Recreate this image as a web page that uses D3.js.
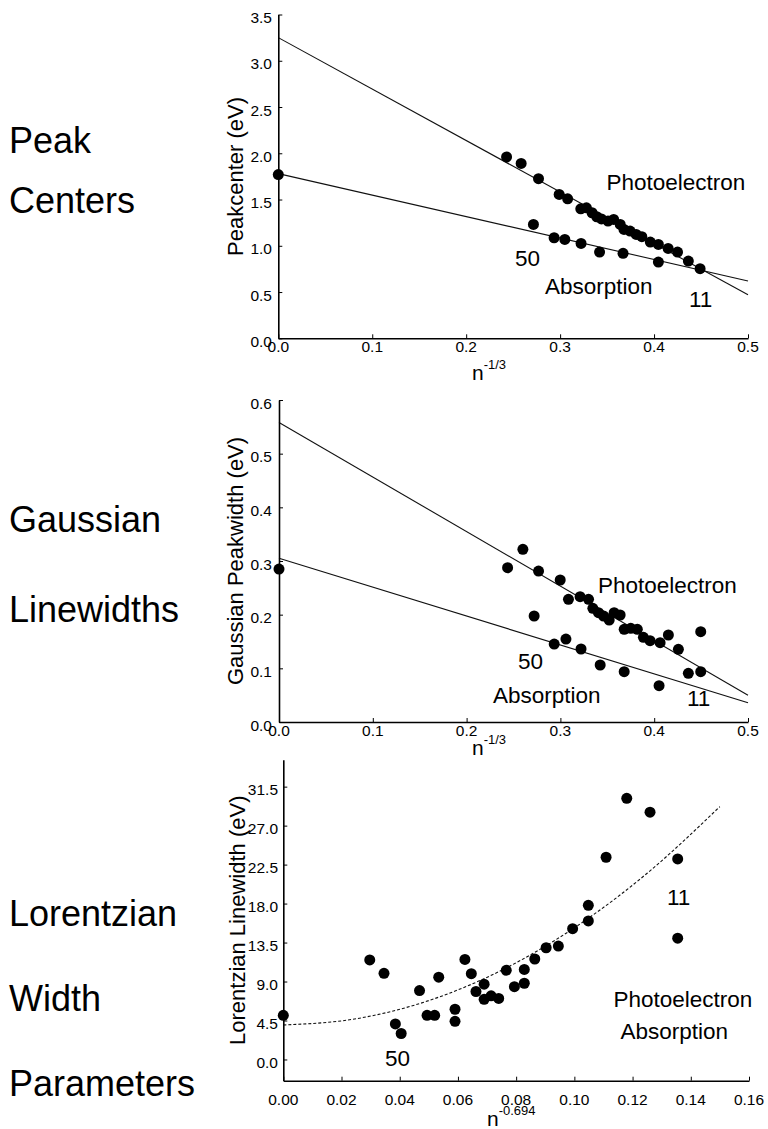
<!DOCTYPE html>
<html>
<head>
<meta charset="utf-8">
<script src="https://cdn.jsdelivr.net/npm/d3@7"></script>
<style>
  body { margin: 0; background: #fff; }
  svg { display: block; }
  text { font-family: "Liberation Sans", Arial, sans-serif; fill: #000; }
</style>
</head>
<body>
<div id="chart"></div>
<script>
// values

// panel 1 : peak centers vs n^-1/3
const p1Photo = [[0.243, 1.96], [0.2585, 1.89], [0.277, 1.725], [0.299, 1.555], [0.308, 1.508],
  [0.322, 1.40], [0.328, 1.41], [0.334, 1.357], [0.339, 1.314], [0.344, 1.29], [0.351, 1.267],
  [0.357, 1.285], [0.364, 1.231], [0.368, 1.177], [0.3745, 1.159], [0.381, 1.123], [0.387, 1.098],
  [0.396, 1.04], [0.4046, 1.015], [0.415, 0.972], [0.425, 0.932], [0.4365, 0.835], [0.449, 0.753]]
const p1Abs = [[0, 1.77], [0.2716, 1.231], [0.2936, 1.087], [0.305, 1.069], [0.3223, 1.026],
  [0.342, 0.932], [0.367, 0.918], [0.4046, 0.824]]
const p1PhotoFit = [[0, 3.25], [0.5, 0.47]]
const p1AbsFit = [[0, 1.78], [0.5, 0.62]]
const p1XTicks = [0, 0.1, 0.2, 0.3, 0.4, 0.5]
const p1YTicks = [0, 0.5, 1.0, 1.5, 2.0, 2.5, 3.0, 3.5]

// panel 2 : gaussian widths vs n^-1/3
const p2Photo = [[0.2437, 0.2875], [0.260, 0.3218], [0.2767, 0.2813], [0.2998, 0.2646], [0.3086, 0.2286],
  [0.321, 0.2335], [0.330, 0.2286], [0.3346, 0.2118], [0.3406, 0.2037], [0.346, 0.1975], [0.352, 0.190],
  [0.3573, 0.2037], [0.3637, 0.1994], [0.368, 0.1727], [0.375, 0.1746], [0.382, 0.1727], [0.3885, 0.1578],
  [0.3956, 0.1515], [0.4063, 0.1478], [0.4151, 0.1621], [0.4258, 0.1354], [0.4496, 0.1683], [0.4364, 0.0907]]
const p2Abs = [[0, 0.285], [0.272, 0.1975], [0.2934, 0.1453], [0.3059, 0.1546], [0.322, 0.136],
  [0.3424, 0.1062], [0.368, 0.0937], [0.4052, 0.0677], [0.4496, 0.0937]]
const p2PhotoFit = [[0, 0.558], [0.5, 0.05]]
const p2AbsFit = [[0, 0.305], [0.5, 0.036]]
const p2XTicks = [0, 0.1, 0.2, 0.3, 0.4, 0.5]
const p2YTicks = [0, 0.1, 0.2, 0.3, 0.4, 0.5, 0.6]

// panel 3 : lorentzian widths vs n^-0.694
const p3Points = [[0, 5.1], [0.0297, 11.5], [0.0346, 9.95], [0.0385, 4.1], [0.0405, 3.0], [0.0468, 7.95],
  [0.0494, 5.1], [0.0520, 5.1], [0.0534, 9.5], [0.0590, 5.8], [0.0590, 4.4], [0.0624, 11.55],
  [0.0646, 9.9], [0.0662, 7.85], [0.0690, 8.7], [0.0690, 6.95], [0.0714, 7.35], [0.0740, 7.05],
  [0.0766, 10.3], [0.0794, 8.4], [0.0828, 10.4], [0.0828, 8.8], [0.0864, 11.6], [0.0903, 12.9],
  [0.0945, 13.1], [0.0994, 15.1], [0.1048, 16.0], [0.1048, 17.8], [0.1109, 23.35], [0.1180, 30.15],
  [0.1260, 28.55], [0.1355, 23.15], [0.1355, 14.0]]
const p3Curve = [[0, 3.98], [0.025, 4.7], [0.05, 6.8], [0.075, 10.3], [0.1, 15.2], [0.125, 21.5], [0.15, 29.2]]
const p3XTicks = [0, 0.02, 0.04, 0.06, 0.08, 0.10, 0.12, 0.14, 0.16]
const p3YTicks = [0, 4.5, 9.0, 13.5, 18.0, 22.5, 27.0, 31.5]

const width = 768
const height = 1129

var svg = d3.select("#chart").append("svg")
  .attr("width", width)
  .attr("height", height)

// left hand captions
var captions = [
  ["Peak", 153], ["Centers", 213],
  ["Gaussian", 532], ["Linewidths", 622],
  ["Lorentzian", 926], ["Width", 1011], ["Parameters", 1096]
]
svg.selectAll(".caption").data(captions).enter().append("text")
  .attr("class", "caption")
  .attr("x", 9)
  .attr("y", d => d[1])
  .style("font-size", "36px")
  .text(d => d[0])

var panels = [
  {
    x: d3.scaleLinear().domain([0, 0.5]).range([278.3, 748]),
    y: d3.scaleLinear().domain([0, 3.5]).range([338.3, 14.5]),
    xTicks: p1XTicks, xMinor: d3.range(0, 0.501, 0.05), xFmt: d3.format(".1f"), xLabelDy: 14,
    yTicks: p1YTicks, yMinor: d3.range(0, 3.501, 0.1), yFmt: d3.format(".1f"), yLabelX: 272,
    fits: [p1PhotoFit, p1AbsFit], dashed: null,
    series: [p1Photo, p1Abs],
    yTitle: "Peakcenter (eV)", yTitleX: 243,
    xTitle: {x: 472, y: 380, exp: "-1/3"},
    notes: [["Photoelectron", 606.5, 190], ["50", 515, 265.5], ["Absorption", 545, 294], ["11", 689, 306.5]]
  },
  {
    x: d3.scaleLinear().domain([0, 0.5]).range([279, 748]),
    y: d3.scaleLinear().domain([0, 0.6]).range([722, 400]),
    xTicks: p2XTicks, xMinor: d3.range(0, 0.501, 0.05), xFmt: d3.format(".1f"), xLabelDy: 14,
    yTicks: p2YTicks, yMinor: d3.range(0, 0.601, 0.05), yFmt: d3.format(".1f"), yLabelX: 272,
    fits: [p2PhotoFit, p2AbsFit], dashed: null,
    series: [p2Photo, p2Abs],
    yTitle: "Gaussian Peakwidth (eV)", yTitleX: 243,
    xTitle: {x: 472, y: 755, exp: "-1/3"},
    notes: [["Photoelectron", 598, 592.5], ["50", 518, 669], ["Absorption", 493, 702.5], ["11", 687, 706]]
  },
  {
    x: d3.scaleLinear().domain([0, 0.16]).range([283.3, 749]),
    y: d3.scaleLinear().domain([-2.45, 34.6]).range([1080.7, 759.8]),
    xTicks: p3XTicks, xMinor: d3.range(0, 0.1601, 0.01), xFmt: d3.format(".2f"), xLabelDy: 24,
    yTicks: p3YTicks, yMinor: d3.range(-2.25, 34.6, 2.25), yFmt: d3.format(".1f"), yLabelX: 278,
    fits: [], dashed: p3Curve,
    series: [p3Points],
    yTitle: "Lorentzian Linewidth (eV)", yTitleX: 245,
    xTitle: {x: 487, y: 1126, exp: "-0.694"},
    notes: [["Photoelectron", 613.5, 1007], ["Absorption", 620.5, 1039], ["11", 667, 905], ["50", 385, 1066]]
  }
]

panels.forEach(drawPanel)

function drawPanel(p) {
  var g = svg.append("g")
  var x = p.x, y = p.y
  var x0 = x.range()[0], yBase = y.range()[0]

  // fitted straight lines
  var line = d3.line().x(d => x(d[0])).y(d => y(d[1]))
  g.selectAll(".fit").data(p.fits).enter().append("path")
    .attr("d", line)
    .attr("fill", "none")
    .attr("stroke", "#111")
    .attr("stroke-width", 1.1)

  // dashed curve (panel 3)
  if (p.dashed) {
    g.append("path")
      .attr("d", d3.line().x(d => x(d[0])).y(d => y(d[1])).curve(d3.curveMonotoneX)(p.dashed))
      .attr("fill", "none")
      .attr("stroke", "#111")
      .attr("stroke-width", 1.1)
      .attr("stroke-dasharray", "3,2")
  }

  // axes, ticks pointing inwards
  var ax = g.append("g").attr("transform", "translate(0," + yBase + ")")
  ax.call(d3.axisBottom(x).tickValues(p.xMinor).tickSize(-2).tickSizeOuter(0).tickFormat(""))
  ax.call(d3.axisBottom(x).tickValues(p.xTicks).tickSize(-4).tickSizeOuter(0).tickFormat(""))
  var ay = g.append("g").attr("transform", "translate(" + x0 + ",0)")
  ay.call(d3.axisLeft(y).tickValues(p.yMinor).tickSize(-2).tickSizeOuter(0).tickFormat(""))
  ay.call(d3.axisLeft(y).tickValues(p.yTicks).tickSize(-4).tickSizeOuter(0).tickFormat(""))
  g.selectAll(".domain").attr("stroke", "#000").attr("stroke-width", 1.6)
  g.selectAll(".tick line").attr("stroke", "#000").attr("stroke-width", 1)

  // tick labels
  g.selectAll(".xl").data(p.xTicks).enter().append("text")
    .attr("x", d => x(d))
    .attr("y", yBase + p.xLabelDy)
    .attr("text-anchor", "middle")
    .style("font-size", "15.5px")
    .text(p.xFmt)
  g.selectAll(".yl").data(p.yTicks).enter().append("text")
    .attr("x", p.yLabelX)
    .attr("y", d => y(d) + 8.5)
    .attr("text-anchor", "end")
    .style("font-size", "15.5px")
    .text(p.yFmt)

  // axis titles
  var ym = (y.range()[0] + y.range()[1]) / 2
  g.append("text")
    .attr("transform", "translate(" + p.yTitleX + "," + ym + ") rotate(-90)")
    .attr("text-anchor", "middle")
    .style("font-size", "22px")
    .text(p.yTitle)
  var xt = g.append("text")
    .attr("x", p.xTitle.x)
    .attr("y", p.xTitle.y)
    .style("font-size", "21px")
  xt.append("tspan").text("n")
  xt.append("tspan").attr("dy", -11).style("font-size", "13px").text(p.xTitle.exp)

  // dots
  p.series.forEach(function(s) {
    g.selectAll(null).data(s).enter().append("circle")
      .attr("cx", d => x(d[0]))
      .attr("cy", d => y(d[1]))
      .attr("r", 5.5)
      .attr("fill", "#000")
  })

  // annotations
  g.selectAll(".note").data(p.notes).enter().append("text")
    .attr("x", d => d[1])
    .attr("y", d => d[2])
    .style("font-size", "22.5px")
    .text(d => d[0])
}
</script>
</body>
</html>
